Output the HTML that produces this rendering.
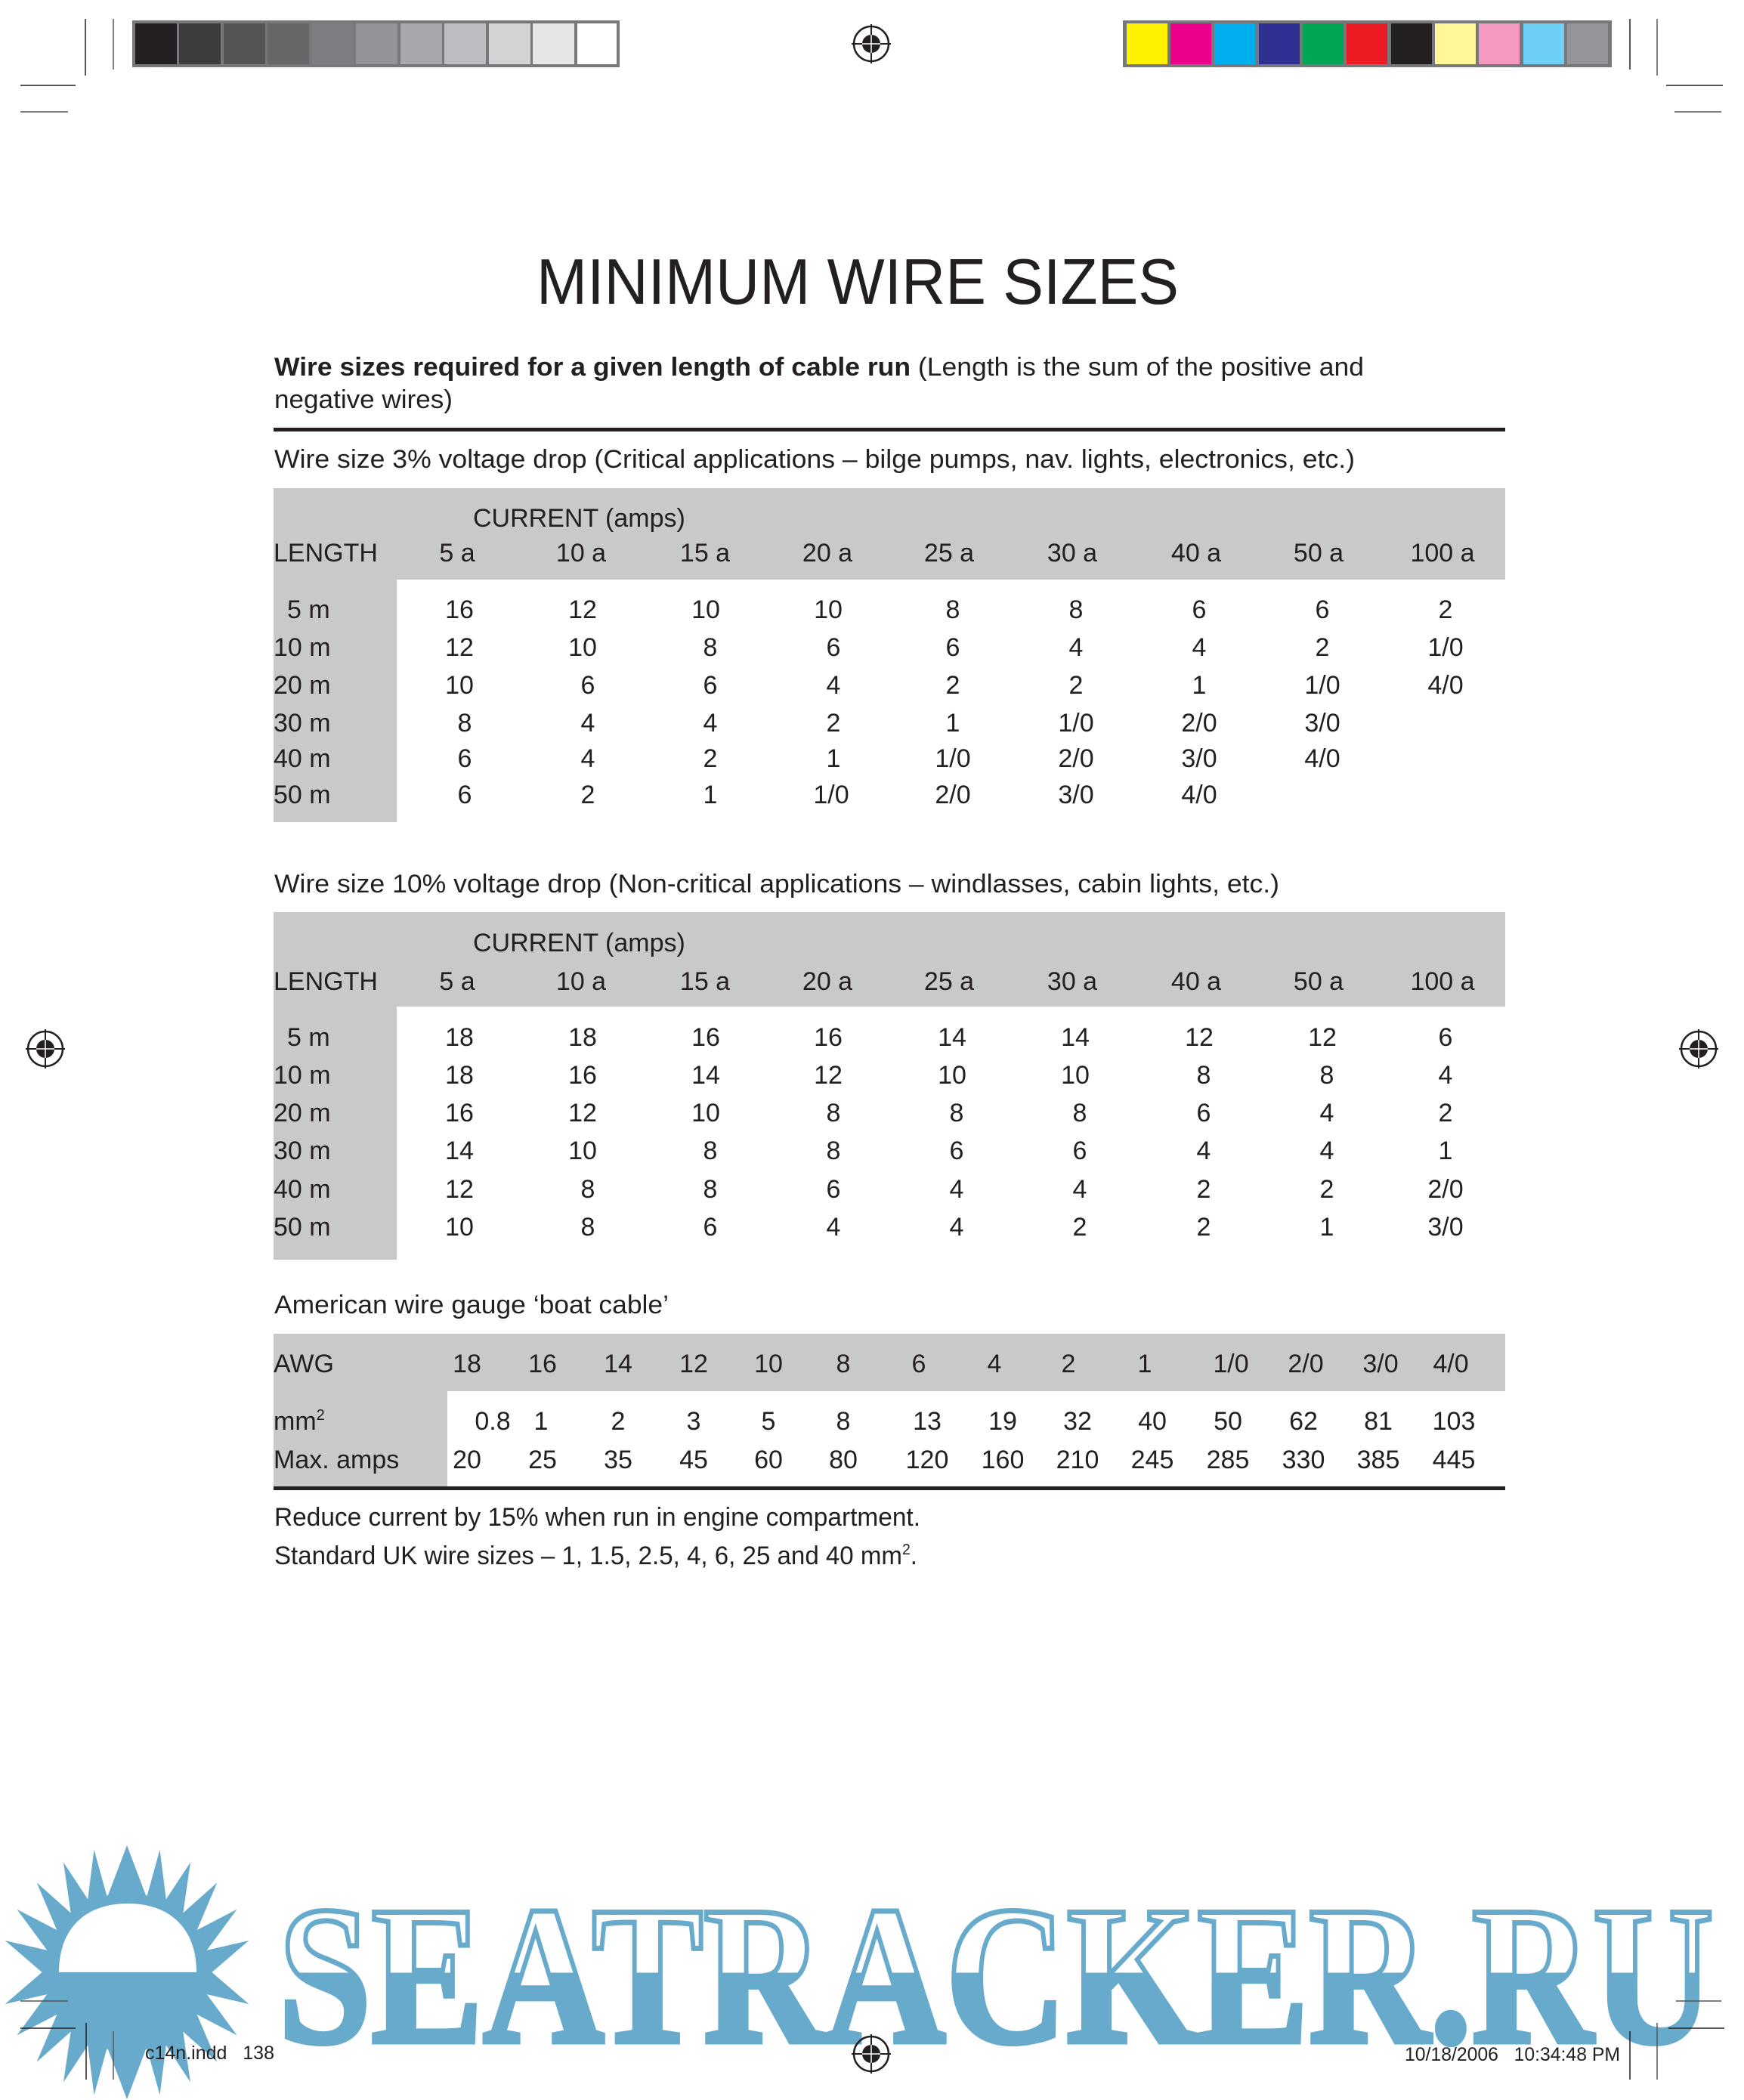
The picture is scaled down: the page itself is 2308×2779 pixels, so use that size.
<!DOCTYPE html>
<html><head><meta charset="utf-8"><style>html,body{margin:0;padding:0;background:#fff}svg{display:block}</style></head>
<body>
<svg xmlns="http://www.w3.org/2000/svg" width="2308" height="2779" viewBox="0 0 2308 2779" font-family="'Liberation Sans', Arial, sans-serif" fill="#231f20">
<defs>
<linearGradient id="wm" x1="0" y1="2517" x2="0" y2="2704" gradientUnits="userSpaceOnUse">
<stop offset="0" stop-color="#fff"/><stop offset="0.5" stop-color="#fff"/><stop offset="0.5" stop-color="#67aacb"/><stop offset="1" stop-color="#67aacb"/>
</linearGradient>
<g id="reg"><circle r="23" fill="none" stroke="#231f20" stroke-width="2.5"/><circle r="12" fill="#231f20"/><line x1="-26" y1="0" x2="26" y2="0" stroke="#231f20" stroke-width="2"/><line x1="0" y1="-26" x2="0" y2="26" stroke="#231f20" stroke-width="2"/><line x1="-12" y1="0" x2="12" y2="0" stroke="#fff" stroke-width="1.5"/><line x1="0" y1="-12" x2="0" y2="12" stroke="#fff" stroke-width="1.5"/></g>
</defs>

<rect x="175" y="27" width="645" height="62" fill="#77787b"/>
<g>
<rect x="179" y="31" width="55" height="54" fill="#231f20"/>
<rect x="237" y="31" width="55" height="54" fill="#3c3b3d"/>
<rect x="296" y="31" width="55" height="54" fill="#525456"/>
<rect x="354" y="31" width="55" height="54" fill="#656769"/>
<rect x="413" y="31" width="55" height="54" fill="#7c7e81"/>
<rect x="471" y="31" width="55" height="54" fill="#929497"/>
<rect x="530" y="31" width="55" height="54" fill="#a6a8ab"/>
<rect x="588" y="31" width="55" height="54" fill="#bbbdc0"/>
<rect x="647" y="31" width="55" height="54" fill="#d1d3d5"/>
<rect x="705" y="31" width="55" height="54" fill="#e5e6e8"/>
<rect x="764" y="31" width="52" height="54" fill="#ffffff"/>
</g>
<rect x="1486" y="27" width="647" height="62" fill="#77787b"/>
<g>
<rect x="1491" y="31" width="54" height="54" fill="#fff200"/>
<rect x="1549" y="31" width="54" height="54" fill="#ec008c"/>
<rect x="1607" y="31" width="54" height="54" fill="#00aeef"/>
<rect x="1666" y="31" width="54" height="54" fill="#2e3192"/>
<rect x="1724" y="31" width="54" height="54" fill="#00a651"/>
<rect x="1782" y="31" width="54" height="54" fill="#ed1c24"/>
<rect x="1841" y="31" width="54" height="54" fill="#231f20"/>
<rect x="1899" y="31" width="54" height="54" fill="#fff799"/>
<rect x="1957" y="31" width="54" height="54" fill="#f49ac1"/>
<rect x="2016" y="31" width="54" height="54" fill="#6dcff6"/>
<rect x="2074" y="31" width="54" height="54" fill="#939598"/>
</g>
<g stroke="#231f20" stroke-width="1.5">
<line x1="113" y1="25" x2="113" y2="100"/><line x1="150" y1="25" x2="150" y2="92" stroke="#555"/>
<line x1="2157" y1="25" x2="2157" y2="92"/><line x1="2193" y1="25" x2="2193" y2="100" stroke="#555"/>
<line x1="27" y1="113" x2="100" y2="113"/><line x1="27" y1="148" x2="90" y2="148" stroke="#555"/>
<line x1="2205" y1="113" x2="2280" y2="113"/><line x1="2216" y1="148" x2="2278" y2="148" stroke="#555"/>
</g>
<use href="#reg" x="1153" y="58"/>
<use href="#reg" x="60" y="1388"/>
<use href="#reg" x="2248" y="1388"/>

<text x="1135" y="402" font-size="85" text-anchor="middle" textLength="850" lengthAdjust="spacingAndGlyphs">MINIMUM WIRE SIZES</text>

<g font-size="34">
<text x="363" y="497" textLength="1442" lengthAdjust="spacingAndGlyphs"><tspan font-weight="bold">Wire sizes required for a given length of cable run</tspan> (Length is the sum of the positive and</text>
<text x="363" y="540" textLength="236" lengthAdjust="spacingAndGlyphs">negative wires)</text>
</g>
<rect x="362" y="566" width="1630" height="5" fill="#231f20"/>

<g font-size="34">
<text x="363" y="619" textLength="1430" lengthAdjust="spacingAndGlyphs">Wire size 3% voltage drop (Critical applications – bilge pumps, nav. lights, electronics, etc.)</text>

<rect x="362" y="646" width="1630" height="121" fill="#c8c9cb"/>
<rect x="362" y="646" width="163" height="442" fill="#c8c9cb"/>
<text x="626" y="697">CURRENT (amps)</text>
<text x="362" y="743">LENGTH</text>
<g text-anchor="middle">
<text x="605" y="743">5 a</text><text x="769" y="743">10 a</text><text x="933" y="743">15 a</text><text x="1095" y="743">20 a</text><text x="1256" y="743">25 a</text><text x="1419" y="743">30 a</text><text x="1583" y="743">40 a</text><text x="1745" y="743">50 a</text><text x="1909" y="743">100 a</text>
</g>
<text x="380" y="818">5 m</text><text x="362" y="868">10 m</text><text x="362" y="918">20 m</text><text x="362" y="968">30 m</text><text x="362" y="1015">40 m</text><text x="362" y="1063">50 m</text>
<g text-anchor="middle">
<g transform="translate(0,818)"><text x="608">16</text><text x="771">12</text><text x="934">10</text><text x="1096">10</text><text x="1261">8</text><text x="1424">8</text><text x="1587">6</text><text x="1750">6</text><text x="1913">2</text></g>
<g transform="translate(0,868)"><text x="608">12</text><text x="771">10</text><text x="940">8</text><text x="1103">6</text><text x="1261">6</text><text x="1424">4</text><text x="1587">4</text><text x="1750">2</text><text x="1913">1/0</text></g>
<g transform="translate(0,918)"><text x="608">10</text><text x="778">6</text><text x="940">6</text><text x="1103">4</text><text x="1261">2</text><text x="1424">2</text><text x="1587">1</text><text x="1750">1/0</text><text x="1913">4/0</text></g>
<g transform="translate(0,968)"><text x="615">8</text><text x="778">4</text><text x="940">4</text><text x="1103">2</text><text x="1261">1</text><text x="1424">1/0</text><text x="1587">2/0</text><text x="1750">3/0</text></g>
<g transform="translate(0,1015)"><text x="615">6</text><text x="778">4</text><text x="940">2</text><text x="1103">1</text><text x="1261">1/0</text><text x="1424">2/0</text><text x="1587">3/0</text><text x="1750">4/0</text></g>
<g transform="translate(0,1063)"><text x="615">6</text><text x="778">2</text><text x="940">1</text><text x="1100">1/0</text><text x="1261">2/0</text><text x="1424">3/0</text><text x="1587">4/0</text></g>
</g>

<text x="363" y="1181" textLength="1330" lengthAdjust="spacingAndGlyphs">Wire size 10% voltage drop (Non-critical applications – windlasses, cabin lights, etc.)</text>
<rect x="362" y="1207" width="1630" height="125" fill="#c8c9cb"/>
<rect x="362" y="1207" width="163" height="460" fill="#c8c9cb"/>
<text x="626" y="1259">CURRENT (amps)</text>
<text x="362" y="1310">LENGTH</text>
<g text-anchor="middle">
<text x="605" y="1310">5 a</text><text x="769" y="1310">10 a</text><text x="933" y="1310">15 a</text><text x="1095" y="1310">20 a</text><text x="1256" y="1310">25 a</text><text x="1419" y="1310">30 a</text><text x="1583" y="1310">40 a</text><text x="1745" y="1310">50 a</text><text x="1909" y="1310">100 a</text>
</g>
<text x="380" y="1384">5 m</text><text x="362" y="1434">10 m</text><text x="362" y="1484">20 m</text><text x="362" y="1534">30 m</text><text x="362" y="1585">40 m</text><text x="362" y="1635">50 m</text>
<g text-anchor="middle">
<g transform="translate(0,1384)"><text x="608">18</text><text x="771">18</text><text x="934">16</text><text x="1096">16</text><text x="1260">14</text><text x="1423">14</text><text x="1587">12</text><text x="1750">12</text><text x="1913">6</text></g>
<g transform="translate(0,1434)"><text x="608">18</text><text x="771">16</text><text x="934">14</text><text x="1096">12</text><text x="1260">10</text><text x="1423">10</text><text x="1593">8</text><text x="1756">8</text><text x="1913">4</text></g>
<g transform="translate(0,1484)"><text x="608">16</text><text x="771">12</text><text x="934">10</text><text x="1103">8</text><text x="1266">8</text><text x="1429">8</text><text x="1593">6</text><text x="1756">4</text><text x="1913">2</text></g>
<g transform="translate(0,1534)"><text x="608">14</text><text x="771">10</text><text x="940">8</text><text x="1103">8</text><text x="1266">6</text><text x="1429">6</text><text x="1593">4</text><text x="1756">4</text><text x="1913">1</text></g>
<g transform="translate(0,1585)"><text x="608">12</text><text x="778">8</text><text x="940">8</text><text x="1103">6</text><text x="1266">4</text><text x="1429">4</text><text x="1593">2</text><text x="1756">2</text><text x="1913">2/0</text></g>
<g transform="translate(0,1635)"><text x="608">10</text><text x="778">8</text><text x="940">6</text><text x="1103">4</text><text x="1266">4</text><text x="1429">2</text><text x="1593">2</text><text x="1756">1</text><text x="1913">3/0</text></g>
</g>

<text x="363" y="1738" textLength="522" lengthAdjust="spacingAndGlyphs">American wire gauge ‘boat cable’</text>
<rect x="362" y="1765" width="1630" height="76" fill="#c8c9cb"/>
<rect x="362" y="1765" width="230" height="205" fill="#c8c9cb"/>
<rect x="362" y="1967" width="1630" height="5" fill="#231f20"/>
<text x="362" y="1816">AWG</text>
<g text-anchor="middle">
<g transform="translate(0,1816)"><text x="618">18</text><text x="718">16</text><text x="818">14</text><text x="918">12</text><text x="1017">10</text><text x="1116">8</text><text x="1216">6</text><text x="1316">4</text><text x="1414">2</text><text x="1515">1</text><text x="1629">1/0</text><text x="1728">2/0</text><text x="1827">3/0</text><text x="1920">4/0</text></g>
<g transform="translate(0,1892)"><text x="652">0.8</text><text x="716">1</text><text x="818">2</text><text x="918">3</text><text x="1017">5</text><text x="1116">8</text><text x="1227">13</text><text x="1327">19</text><text x="1426">32</text><text x="1525">40</text><text x="1625">50</text><text x="1725">62</text><text x="1824">81</text><text x="1924">103</text></g>
<g transform="translate(0,1943)"><text x="618">20</text><text x="718">25</text><text x="818">35</text><text x="918">45</text><text x="1017">60</text><text x="1116">80</text><text x="1227">120</text><text x="1327">160</text><text x="1426">210</text><text x="1525">245</text><text x="1625">285</text><text x="1725">330</text><text x="1824">385</text><text x="1924">445</text></g>
</g>
<text x="362" y="1892">mm<tspan font-size="20" dy="-13">2</tspan></text>
<text x="362" y="1943">Max. amps</text>

<text x="363" y="2019" textLength="855" lengthAdjust="spacingAndGlyphs">Reduce current by 15% when run in engine compartment.</text>
<text x="363" y="2070" textLength="851" lengthAdjust="spacingAndGlyphs">Standard UK wire sizes – 1, 1.5, 2.5, 4, 6, 25 and 40 mm<tspan font-size="20" dy="-13">2</tspan><tspan dy="13">.</tspan></text>
</g>

<polygon fill="#67aacb" points="168.0,2442.0 194.1,2510.9 211.5,2447.7 219.8,2513.4 252.0,2464.5 242.3,2531.5 287.4,2491.2 260.7,2554.1 313.6,2526.6 273.7,2580.9 329.3,2568.0 280.4,2610.0 333.3,2610.0 280.4,2610.0 329.3,2652.0 273.7,2639.1 313.6,2693.4 260.7,2665.9 287.4,2728.8 242.3,2688.5 252.0,2755.5 219.8,2706.6 211.5,2772.3 194.1,2709.1 168.0,2778.0 141.9,2709.1 124.5,2772.3 116.2,2706.6 84.0,2755.5 93.7,2688.5 48.6,2728.8 75.3,2665.9 22.4,2693.4 62.3,2639.1 6.7,2652.0 55.6,2610.0 0,2610.0 55.6,2610.0 6.7,2568.0 62.3,2580.9 22.4,2526.6 75.3,2554.1 48.6,2491.2 93.7,2531.5 84.0,2464.5 116.2,2513.4 124.5,2447.7 141.9,2510.9"/>
<circle cx="168" cy="2610" r="105" fill="#67aacb"/>
<path d="M78 2610 C78 2550 115 2519 169 2519 C223 2519 260 2550 260 2610 Z" fill="#fff"/>
<text x="368" y="2702" font-family="'Liberation Serif', serif" font-weight="bold" font-size="262" textLength="1900" lengthAdjust="spacingAndGlyphs" fill="url(#wm)" stroke="#67aacb" stroke-width="7">SEATRACKER.RU</text>

<g stroke="#231f20" stroke-width="1.5">
<line x1="27" y1="2648" x2="90" y2="2648" stroke="#555"/><line x1="27" y1="2684" x2="100" y2="2684"/>
<line x1="114" y1="2677" x2="114" y2="2752"/><line x1="150" y1="2688" x2="150" y2="2752" stroke="#555"/>
<line x1="2218" y1="2648" x2="2278" y2="2648" stroke="#555"/><line x1="2208" y1="2684" x2="2282" y2="2684"/>
<line x1="2157" y1="2688" x2="2157" y2="2752"/><line x1="2193" y1="2677" x2="2193" y2="2752" stroke="#555"/>
</g>
<use href="#reg" x="1153" y="2718"/>
<text x="192" y="2725" font-size="25" xml:space="preserve">c14n.indd   138</text>
<text x="1859" y="2727" font-size="25" textLength="285" lengthAdjust="spacingAndGlyphs" xml:space="preserve">10/18/2006   10:34:48 PM</text>
</svg>
</body></html>
